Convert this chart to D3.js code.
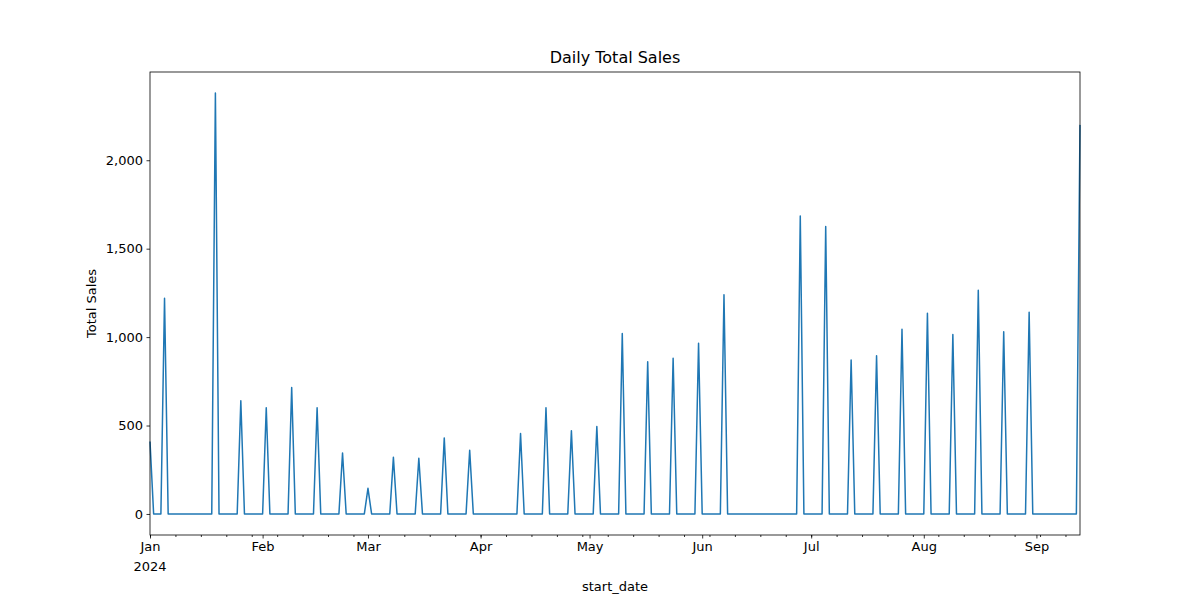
<!DOCTYPE html>
<html><head><meta charset="utf-8">
<script src="https://cdn.jsdelivr.net/npm/d3@7"></script>
<style>body{margin:0;background:#fff}text{font-family:"DejaVu Sans",sans-serif}</style>
</head><body><div id="main"></div>
<script>
// days (0 = 2024-01-01) that have sales, every other day in range is 0
const saleDays = [0, 4, 18, 25, 32, 39, 46, 53, 60, 67, 74, 81, 88, 102, 109, 116, 123, 130, 137, 144, 151, 158, 179, 186, 193, 200, 207, 214, 221, 228, 235, 242, 256];
const saleValues = [410, 1220, 2380, 640, 600, 715, 600, 345, 145, 320, 315, 430, 360, 455, 600, 470, 495, 1020, 860, 880, 965, 1240, 1685, 1625, 870, 895, 1045, 1135, 1015, 1265, 1030, 1140, 2200];
const yTicks = [0, 500, 1000, 1500, 2000];
const monthLabels = ["Jan", "Feb", "Mar", "Apr", "May", "Jun", "Jul", "Aug", "Sep"];

const start = new Date(2024, 0, 1);
const lastDay = saleDays[saleDays.length - 1];
const data = d3.range(lastDay + 1).map(function(i) {
  const k = saleDays.indexOf(i);
  return {date: d3.timeDay.offset(start, i), value: k >= 0 ? saleValues[k] : 0};
});

const margin = {top: 72, right: 120, bottom: 65, left: 150};
const width = 1200 - margin.left - margin.right;
const height = 600 - margin.top - margin.bottom;

const svg = d3.select("#main").append("svg").attr("width", 1200).attr("height", 600);
const g = svg.append("g").attr("transform", "translate(" + margin.left + "," + margin.top + ")");

const x = d3.scaleTime().domain([start, data[data.length - 1].date]).range([0, width]);
const maxV = d3.max(saleValues);
const y = d3.scaleLinear().domain([-0.05 * maxV, maxV * 1.05]).range([height, 0]);

g.append("path").datum(data)
  .attr("fill", "none").attr("stroke", "#1f77b4").attr("stroke-width", 1.5)
  .attr("stroke-linejoin", "round")
  .attr("d", d3.line().x(d => x(d.date)).y(d => y(d.value)));

// y axis
const yAxis = g.append("g").call(d3.axisLeft(y).tickValues(yTicks).tickSize(3.5).tickPadding(3.5));
// x axis: minor weekly, major monthly
const months = monthLabels.map((m, i) => new Date(2024, i, 1));
g.append("g").attr("transform", "translate(0," + height + ")")
  .call(d3.axisBottom(x).tickValues(d3.timeMonday.range(start, x.domain()[1])).tickSize(2).tickFormat(""));
const xAxis = g.append("g").attr("transform", "translate(0," + height + ")")
  .call(d3.axisBottom(x).tickValues(months).tickSize(3.5).tickPadding(3.5).tickFormat((d, i) => monthLabels[i]));
g.selectAll(".domain").remove();
g.selectAll(".tick text").attr("font-size", 13).attr("fill", "#000").attr("font-family", "DejaVu Sans");
g.selectAll(".tick line").attr("stroke", "#000").attr("stroke-width", 0.8);

g.append("text").attr("x", 0).attr("y", height + 36).attr("text-anchor", "middle")
  .attr("font-size", 13).text("2024");

g.append("rect").attr("width", width).attr("height", height)
  .attr("fill", "none").attr("stroke", "#000").attr("stroke-width", 0.8);

g.append("text").attr("x", width / 2).attr("y", -9).attr("text-anchor", "middle")
  .attr("font-size", 16).text("Daily Total Sales");
g.append("text").attr("x", width / 2).attr("y", height + 56).attr("text-anchor", "middle")
  .attr("font-size", 13).text("start_date");
g.append("text").attr("transform", "translate(-54," + (height / 2) + ") rotate(-90)")
  .attr("text-anchor", "middle").attr("font-size", 13).text("Total Sales");
</script></body></html>
